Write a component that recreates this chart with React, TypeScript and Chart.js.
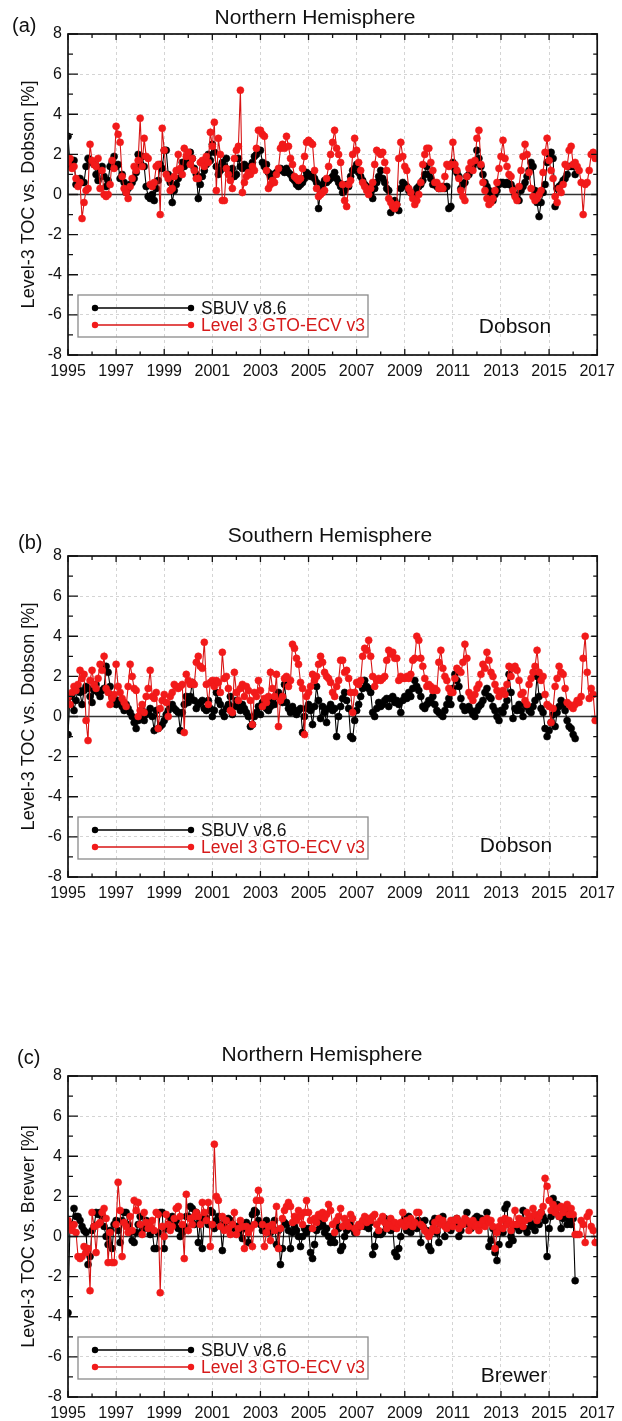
import React, { useEffect, useRef } from "react";
import Chart from "chart.js/auto";

const FONT = '"Liberation Sans", Arial, Helvetica, sans-serif';

// axis ticks
const xTicks = [1995, 1997, 1999, 2001, 2003, 2005, 2007, 2009, 2011, 2013, 2015, 2017];
const yTicks = [-8, -6, -4, -2, 0, 2, 4, 6, 8];
const seriesNames = ["SBUV v8.6", "Level 3 GTO-ECV v3"];
const startYear = 1995; // monthly values from Jan 1995

// (a) NH, Dobson
const aRed = [
  1.6, 1.8, 1.3, 1.4, 0.8, 0.4, 0.6, -1.2, -0.4, 0.2, 0.3, 2.5,
  1.7, 1.5, 1.4, 1.8, 0.3, 1.2, 0.0, -0.1, 0.0, 0.5, 1.7, 1.3,
  3.4, 3.0, 2.6, 0.9, 0.3, 0.1, -0.2, 0.4, 0.8, 1.4, 1.2, 1.7,
  3.8, 1.4, 2.8, 1.9, 1.8, 0.5, 0.4, 0.6, 1.4, 1.5, -1.0, 3.3,
  2.2, 1.0, 0.8, 0.2, 0.3, 0.9, 1.2, 2.0, 1.3, 1.0, 2.3, 1.9,
  2.1, 1.5, 1.8, 1.2, 0.8, 0.8, 1.6, 1.7, 1.4, 1.9, 1.6, 3.1,
  2.4, 3.6, 0.2, 2.8, 2.0, -0.3, -0.3, 1.3, 1.0, 0.7, 0.3, 1.8,
  2.2, 2.4, 5.2, 0.1, 0.6, 0.9, 1.1, 1.0, 1.4, 1.2, 2.3, 3.2,
  3.2, 3.0, 2.9, 1.2, 0.3, 0.5, 0.7, 0.6, 1.0, 1.3, 2.3, 2.5,
  2.3, 2.9, 2.4, 1.8, 1.5, 0.9, 0.8, 0.7, 0.8, 1.3, 1.9, 2.6,
  2.7, 2.6, 2.5, 1.2, 0.3, -0.1, 0.0, 0.1, 0.2, 0.8, 1.4, 2.0,
  2.6, 3.2, 2.3, 2.0, 1.6, 0.5, -0.3, -0.6, 0.5, 0.7, 2.0, 2.8,
  2.2, 1.6, 1.2, 0.6, 0.4, 0.2, 0.0, 0.3, 0.6, 1.5, 2.2, 2.1,
  2.0, 2.1, 1.6, 1.2, -0.2, -0.4, -0.6, -0.7, -0.5, 1.8, 2.6, 1.9,
  1.4, 1.2, 0.3, 0.1, -0.2, -0.5, -0.3, 0.0, 0.6, 1.5, 2.0, 2.3,
  2.3, 1.6, 1.2, 0.6, 0.6, 0.3, 0.4, 0.3, 0.9, 1.5, 1.4, 1.5,
  2.6, 1.5, 1.2, 0.8, 0.2, -0.1, -0.3, 0.9, 1.3, 1.6, 1.2, 1.7,
  2.8, 3.2, 1.5, 0.6, 0.2, -0.2, -0.5, -0.4, -0.2, 0.2, 0.6, 1.3,
  1.9, 2.7, 1.8, 1.4, 1.0, 0.9, 0.2, -0.1, -0.3, 0.4, 1.2, 1.9,
  2.5, 2.0, 1.1, 0.3, -0.1, -0.3, -0.2, 0.0, 0.2, 1.1, 2.1, 2.8,
  1.7, 1.2, 0.8, -0.1, -0.4, 0.3, 0.1, 0.5, 1.5, 1.4, 2.2, 2.4,
  1.5, 1.6, 1.4, 1.2, 0.6, -1.0, 0.5, 0.6, 1.2, 2.0, 2.1, 1.8,
];
const aBlack = [
  2.9, 1.5, 1.7, 1.7, 0.5, 0.7, 0.8, 0.6, 0.6, 1.4, 1.8, 1.7,
  1.6, 1.5, 1.0, 0.7, 1.2, 1.4, 0.9, 0.4, 0.7, 1.4, 1.6, 1.9,
  1.4, 1.5, 0.8, 1.0, 0.6, 0.1, 0.3, 0.5, 0.6, 0.8, 1.1, 2.0,
  1.5, 1.9, 1.4, 0.4, -0.1, -0.2, 0.0, -0.3, 0.3, 0.7, 1.5, 1.3,
  2.2, 2.2, 1.0, 0.6, -0.4, 0.2, 0.5, 0.8, 1.2, 1.6, 1.4, 1.7,
  1.8, 2.1, 1.8, 1.3, 1.0, -0.2, 0.5, 0.9, 1.2, 1.5, 2.0, 1.7,
  2.5, 2.1, 1.4, 1.0, 1.2, 1.6, 1.4, 1.8, 1.2, 1.1, 1.3, 0.9,
  1.0, 1.8, 1.4, 1.3, 1.5, 1.4, 1.3, 1.4, 1.6, 1.9, 2.0, 2.2,
  2.2, 1.6, 1.4, 1.5, 1.1, 0.9, 1.0, 1.0, 1.1, 1.2, 1.3, 1.2,
  1.1, 1.3, 1.1, 1.0, 0.8, 0.7, 0.5, 0.4, 0.5, 0.6, 0.8, 1.1,
  1.0, 0.9, 1.0, 0.8, 0.6, -0.7, 0.2, 0.5, 0.7, 0.6, 0.7, 0.8,
  0.9, 1.1, 0.8, 0.6, 0.4, 0.1, 0.2, 0.5, 0.4, 0.9, 1.2, 1.3,
  1.5, 1.1, 0.9, 0.7, 0.5, 0.4, 0.3, 0.1, -0.2, 0.3, 0.6, 0.9,
  1.2, 0.8, 0.6, 0.3, 0.2, -0.9, -0.4, -0.3, -0.5, -0.8, 0.3, 0.6,
  0.5, 0.4, 0.2, 0.1, 0.0, -0.1, 0.3, 0.4, 0.5, 0.7, 1.0, 1.4,
  1.0, 0.8, 0.5, 0.5, 0.4, 0.3, 0.3, 0.4, 0.3, 0.4, -0.7, -0.6,
  1.6, 1.3, 1.1, 0.9, 0.3, 0.5, 0.6, 0.9, 1.0, 1.3, 1.4, 1.6,
  2.2, 1.8, 1.4, 1.0, 0.6, 0.4, 0.2, 0.0, -0.3, 0.0, 0.2, 0.5,
  0.6, 0.6, 0.5, 0.6, 0.5, 0.5, 0.3, 0.0, -0.2, -0.3, 0.2, 0.4,
  0.6, 0.9, 1.2, 1.6, 1.4, 0.2, -0.4, -1.1, -0.4, 0.1, 0.5, 1.6,
  2.0, 2.1, 1.8, -0.6, 0.3, 0.4, 0.5, 0.7, 0.8, 1.0, 1.4, 1.4,
  1.4, 1.0,
];

// (b) SH, Dobson
const bRed = [
  1.0, 0.6, 1.2, 1.5, 1.3, 1.6, 2.3, 1.9, 2.1, -0.2, -1.2, 1.8,
  2.3, 1.6, 1.4, 1.9, 2.6, 2.3, 3.0, 1.4, 1.2, 0.6, 0.9, 1.1,
  2.6, 1.5, 1.2, 0.9, 0.7, 0.5, 1.5, 2.6, 2.0, 1.4, 1.3, 0.0,
  0.3, 0.6, 0.2, 1.0, 1.4, 2.3, 1.0, 0.9, 1.2, -0.6, 0.4, 0.8,
  1.1, 0.7, 0.0, 1.0, 1.2, 1.6, 1.5, 1.4, 1.5, 1.6, -0.8, 2.1,
  1.8, 1.6, 1.7, 1.6, 2.7, 3.0, 2.5, 2.4, 3.7, 1.6, 0.6, 1.7,
  1.8, 1.5, 1.8, 1.7, 1.2, 3.2, 1.9, 2.0, 1.4, 0.3, 0.2, 2.2,
  1.2, 0.8, 1.4, 1.6, 1.0, 1.5, 1.3, 0.8, -0.4, 1.2, 1.0, 1.8,
  1.3, 0.5, 0.9, 0.7, 1.0, 2.2, 1.4, 1.0, 2.1, -0.5, 0.8, 1.0,
  1.9, 2.0, 1.5, 1.8, 3.6, 3.4, 2.9, 2.6, 1.7, 1.4, -0.9, 1.0,
  1.2, 1.5, 2.1, 1.8, 2.0, 2.6, 3.0, 2.7, 2.2, 2.0, 1.9, 1.7,
  1.2, 1.0, 1.5, 1.8, 2.8, 2.8, 2.2, 2.3, 1.9, 1.2, 0.2, 1.2,
  1.7, 1.6, 1.8, 3.0, 3.4, 3.3, 3.8, 3.0, 2.0, 1.5, 1.8, 1.9,
  1.8, 1.9, 2.0, 2.8, 3.3, 3.1, 3.2, 2.9, 2.9, 1.8, 2.0, 1.9,
  1.9, 2.0, 1.9, 2.1, 2.8, 2.9, 4.0, 3.8, 2.9, 2.5, 1.9, 1.5,
  1.6, 1.5, 1.3, 1.4, 1.3, 2.7, 3.3, 2.4, 2.0, 1.8, 1.4, 1.2,
  1.2, 1.9, 2.4, 2.3, 2.2, 2.7, 3.6, 2.9, 1.2, 1.0, 0.8, 1.1,
  1.4, 1.6, 2.1, 2.6, 2.4, 3.2, 2.8, 2.2, 2.0, 1.6, 1.3, 1.0,
  1.2, 1.3, 1.1, 1.6, 2.5, 2.0, 2.4, 2.5, 2.3, 1.8, 1.1, 1.2,
  0.8, 0.6, 1.6, 1.9, 2.2, 2.5, 3.3, 2.2, 1.8, 2.0, 1.1, 0.6,
  0.5, -0.3, 0.4, 1.5, 1.9, 2.5, 2.2, 2.1, 1.4, 0.7, 0.6, 0.5,
  0.4, 0.6, 0.8, 0.7, 1.0, 2.9, 4.0, 2.2, 0.9, 1.4, 1.1, -0.2,
];
const bBlack = [
  -0.9, 1.0, 1.1, 0.3, 0.8, 1.4, 1.2, 0.6, 1.3, 1.5, 1.4, 1.0,
  0.7, 1.3, 1.6, 1.2, 1.0, 1.3, 1.4, 2.5, 2.2, 1.5, 1.0, 0.9,
  0.6, 0.8, 0.7, 0.5, 0.3, 0.6, 0.4, 0.2, 0.0, -0.3, -0.6, -0.2,
  0.0, 0.3, -0.2, 0.1, 0.2, 0.4, 0.0, -0.7, 0.3, -0.6, -0.5, -0.4,
  -0.2, 0.1, 0.3, 0.5, 0.6, 0.4, 0.3, 0.2, -0.7, 0.2, 0.6, 1.0,
  0.7, 1.0, 1.7, 0.8, 0.4, 0.6, 0.7, 0.8, 0.4, 0.3, 0.8, 0.4,
  0.0, 0.3, 1.2, 0.8, 0.6, 0.2, 0.0, 0.4, 0.6, 1.0, 0.1, 0.5,
  0.8, 0.5, 0.3, 0.6, 0.4, 0.2, 0.0, -0.5, -0.4, 0.0, 0.2, 0.5,
  0.1, 0.7, 0.6, 0.4, 0.3, 0.5, 0.8, 0.6, 1.0, 1.2, 0.9, 0.7,
  1.6, 0.7, 0.4, 0.2, 0.5, 0.3, 0.1, 0.3, 0.4, -0.8, 0.0, 0.4,
  0.6, 0.3, -0.4, 0.5, 1.5, 0.8, -0.1, 0.5, 0.2, -0.3, 0.4, 0.6,
  0.3, 0.4, -1.0, 0.0, 0.5, 0.9, 1.2, 0.8, 0.4, -1.0, -1.1, -0.2,
  0.3, 0.6, 1.0, 1.4, 1.8, 1.5, 1.4, 1.2, 0.2, 0.0, 0.4, 0.7,
  0.5, 0.6, 0.8, 0.9, 0.5, 0.9, 1.0, 0.7, 0.8, 0.6, 0.2, 0.8,
  1.0, 0.9, 1.2, 1.0, 1.4, 1.8, 1.5, 1.3, 1.0, 0.5, 0.4, 0.6,
  0.8, 0.7, 1.0, 0.6, 0.3, 0.2, 0.1, 0.0, 0.3, 0.6, 0.9, 0.6,
  1.4, 2.1, 1.8, 1.5, 0.9, 0.5, 0.3, 0.4, 0.5, 0.3, 0.1, 0.0,
  0.3, 0.5, 0.6, 0.8, 1.2, 1.4, 1.0, 0.9, 0.5, 0.3, 0.0, -0.2,
  0.3, 0.2, 0.5, 0.8, 2.1, 1.2, -0.1, 0.4, 0.3, 0.6, 0.3, 0.0,
  0.6, 0.5, 0.3, 0.2, 0.5, 0.8, 2.0, 1.0, 0.4, 0.2, -0.6, -1.0,
  -0.7, -0.3, 0.1, -0.5, 0.2, 0.5, 0.8, 0.6, 0.3, -0.2, -0.5, -0.6,
  -0.9, -1.1,
];

// (c) NH, Brewer
const cRed = [
  0.8, 0.5, 0.3, 0.6, 0.2, -1.0, -1.1, -1.0, -0.5, -0.8, -0.6, -2.7,
  1.2, 0.5, -0.8, 0.6, 0.7, 1.2, 1.4, 0.9, -1.3, 0.2, -1.3, -1.3,
  0.6, 2.7, 1.3, -1.0, 0.7, 0.5, 0.2, 1.0, 0.3, 1.8, 1.3, 1.7,
  0.6, 0.1, 1.2, 0.7, 0.4, 0.5, 0.8, 0.3, 1.2, 1.1, -2.8, 0.5,
  0.0, 1.1, 0.6, 0.3, 0.5, 0.9, 1.4, 1.5, 1.0, 0.6, -1.1, 2.1,
  0.3, 0.9, 0.6, 1.0, 1.2, 1.0, 0.6, 1.7, 1.2, 0.8, 1.7, -0.5,
  0.6, 4.6, 2.0, 1.8, 0.5, 1.0, 0.3, 0.8, 0.4, 0.1, 0.6, 1.2,
  0.1, 0.4, 0.8, 0.5, -0.6, 0.5, 0.2, 0.4, -0.5, 0.6, 1.8, 2.3,
  1.8, 0.6, -0.5, 0.2, 0.5, -0.2, 0.6, 0.3, 1.5, -0.6, 0.4, 0.9,
  1.3, 1.5, 1.7, 1.5, 0.7, 1.0, 0.8, 1.3, 1.0, 0.6, 1.2, 1.8,
  1.2, 0.8, 0.4, 0.9, 0.7, 1.1, 1.0, 1.2, 0.9, 1.1, 1.6, 1.3,
  0.6, 0.2, 0.8, 1.0, 1.4, 0.5, 0.9, 0.7, 0.5, 1.1, 0.9, 0.4,
  0.2, 0.6, 0.5, 0.8, 1.0, 0.7, 0.9, 0.8, 1.0, 1.1, 0.6, 0.3,
  0.8, 1.0, 0.7, 0.4, 0.6, 0.9, 0.5, 0.7, 0.4, 0.6, 0.7, 1.2,
  0.5, 0.8, 0.6, 0.9, 0.5, 0.7, 1.2, 1.2, 0.6, 0.5, 0.3, 0.2,
  0.0, 0.2, 0.4, 0.7, 0.3, 0.9, 0.6, 0.8, 0.5, 0.4, 0.6, 0.8,
  0.5, 0.8, 0.9, 0.4, 0.7, 0.6, 0.9, 0.8, 0.3, 0.6, 0.8, 0.5,
  0.6, 0.3, 0.6, 0.8, 0.5, 0.9, 0.7, 0.8, 0.5, -0.6, 0.2, 0.5,
  0.8, 0.4, 0.9, 0.6, 0.8, 0.3, 0.6, 1.3, 0.6, 0.9, 0.8, 0.5,
  0.8, 1.2, 0.9, 1.0, 1.4, 1.1, 0.8, 1.0, 1.2, 1.5, 2.9, 2.5,
  1.8, 1.3, 1.6, 1.2, 1.4, 1.0, 1.5, 1.2, 1.4, 1.6, 1.1, 1.4,
  1.1, 0.1, 0.1, 0.1, 0.8, 0.6, -0.3, 1.0, 1.2, 0.5, 0.3, -0.3,
];
const cBlack = [
  -3.8, 0.6, 0.6, 1.4, 1.0, 1.0, 0.8, 0.5, 0.3, 0.2, -1.4, -1.0,
  0.3, 0.5, 1.2, 1.1, 1.2, 1.0, 0.5, 0.0, -0.4, 0.3, -0.6, 0.6,
  0.8, 0.3, -0.3, 0.8, 1.2, 1.2, 0.6, 0.2, -0.2, -0.3, 0.2, 0.6,
  1.0, 0.3, 0.5, 0.8, 0.4, 0.1, 0.3, -0.6, -0.6, 0.2, 1.2, 1.2,
  -0.6, 0.4, 0.6, 0.9, 1.0, 0.6, 0.8, 0.4, 0.0, 0.2, 0.5, 1.0,
  1.0, 1.5, 1.4, 0.6, 1.2, -0.3, 0.8, -0.6, 1.0, 0.9, 0.6, 1.3,
  1.2, 0.4, 0.8, 1.0, 0.6, -0.7, 0.5, 0.8, 0.9, 0.8, 0.6, 0.4,
  0.5, 0.2, 0.6, -0.1, 0.4, 0.7, -0.3, 0.5, 1.1, 1.3, 1.2, 0.8,
  0.6, 0.3, 0.5, 0.8, 0.4, 0.2, 0.5, 0.8, -0.4, 0.3, -1.4, -0.6,
  0.7, 0.6, 0.3, -0.6, 0.2, 0.5, 0.3, 0.0, -0.5, 0.0, 0.4, 0.2,
  0.4, -0.8, -1.1, -0.4, 0.3, 0.8, 0.5, 0.6, 0.2, 0.4, 0.0, -0.3,
  0.0, -0.3, 0.7, 0.4, -0.7, -0.5, 0.0, 0.3, 0.6, 0.7, 0.4, 0.2,
  0.3, 0.5, 0.6, 0.7, 0.5, 0.6, 0.4, 0.7, -0.9, -0.5, 0.1, 0.2,
  0.1, 0.2, 0.9, 0.8, 0.5, 0.3, 0.4, -0.8, -1.0, -0.6, 0.0, 0.7,
  0.9, 0.3, 1.0, 0.2, 0.5, 0.6, 0.4, 0.8, -0.3, 0.5, 0.8, 0.3,
  -0.5, -0.7, 0.7, 0.9, 0.2, -0.3, 0.8, 1.0, 0.0, 0.5, 0.6, 0.3,
  0.8, 0.6, 0.9, 0.0, 0.3, 0.6, 0.8, 1.2, 0.6, 0.4, 0.7, 0.9,
  1.0, 0.6, 0.9, 0.6, 0.8, 1.2, -0.5, -0.2, 0.4, -0.8, -1.2, -0.4,
  0.3, 0.2, 1.4, 1.6, -0.4, 0.0, -0.2, 0.5, 0.6, 0.3, 0.6, 1.3,
  0.4, 0.2, 0.8, 0.5, 0.6, 0.3, 0.8, 0.6, 1.2, 1.0, 0.8, -1.0,
  0.4, 1.0, 1.9, 1.5, 1.6, 1.0, 0.4, 0.9, 1.2, 0.6, 0.9, 0.6,
  0.9, -2.2,
];

const RED_LINE = "#d81414";
const RED_DOT = "#f21a1a";

const toPoints = (vals: number[]) => vals.map((v, i) => ({ x: startYear + i / 12, y: v }));

type PanelProps = {
  top: number;
  letter: string;
  letterX: number;
  letterY: number;
  title: string;
  titleX: number;
  titleY: number;
  yTitle: string;
  site: string;
  siteX: number;
  siteY: number;
  red: number[];
  black: number[];
};

const panels: PanelProps[] = [
  {
    top: 0, letter: "(a)", letterX: 12, letterY: 26,
    title: "Northern Hemisphere", titleX: 315, titleY: 18,
    yTitle: "Level-3 TOC vs. Dobson [%]", site: "Dobson", siteX: 515, siteY: 327,
    red: aRed, black: aBlack,
  },
  {
    top: 522, letter: "(b)", letterX: 18, letterY: 21,
    title: "Southern Hemisphere", titleX: 330, titleY: 14,
    yTitle: "Level-3 TOC vs. Dobson [%]", site: "Dobson", siteX: 516, siteY: 324,
    red: bRed, black: bBlack,
  },
  {
    top: 1042, letter: "(c)", letterX: 17, letterY: 16,
    title: "Northern Hemisphere", titleX: 322, titleY: 13,
    yTitle: "Level-3 TOC vs. Brewer [%]", site: "Brewer", siteX: 514, siteY: 334,
    red: cRed, black: cBlack,
  },
];

// zero line, frame, inward ticks, legend box and labels
const makeOverlay = (p: PanelProps) => ({
  id: "overlay",
  beforeDatasetsDraw(chart: any) {
    const { ctx, chartArea: a, scales } = chart;
    const y0 = scales.y.getPixelForValue(0);
    ctx.save();
    ctx.strokeStyle = "#333";
    ctx.lineWidth = 1.4;
    ctx.beginPath();
    ctx.moveTo(a.left, y0);
    ctx.lineTo(a.right, y0);
    ctx.stroke();
    ctx.restore();
  },
  afterDraw(chart: any) {
    const { ctx, chartArea: a, scales } = chart;
    const { x, y } = scales;
    ctx.save();
    ctx.strokeStyle = "#111";
    ctx.lineWidth = 1.7;
    ctx.strokeRect(a.left, a.top, a.right - a.left, a.bottom - a.top);

    ctx.lineWidth = 1.3;
    ctx.beginPath();
    for (let yr = x.min; yr <= x.max; yr++) {
      const px = x.getPixelForValue(yr);
      const major = (yr - x.min) % 2 === 0;
      ctx.moveTo(px, a.bottom);
      ctx.lineTo(px, a.bottom - (major ? 6 : 3.5));
      ctx.moveTo(px, a.top);
      ctx.lineTo(px, a.top + (major ? 6 : 4));
    }
    for (let v = y.min; v <= y.max; v++) {
      const py = y.getPixelForValue(v);
      const major = v % 2 === 0;
      ctx.moveTo(a.left, py);
      ctx.lineTo(a.left + (major ? 10 : 5), py);
      ctx.moveTo(a.right, py);
      ctx.lineTo(a.right - (major ? 6 : 4), py);
    }
    ctx.stroke();

    // legend
    const boxTop = a.top + 261;
    ctx.strokeStyle = "#8a8a8a";
    ctx.lineWidth = 1.3;
    ctx.strokeRect(78, boxTop, 290, 42);
    const rows = [
      { name: seriesNames[0], line: "#000", dot: "#000", text: "#111", yy: a.top + 274 },
      { name: seriesNames[1], line: RED_LINE, dot: RED_DOT, text: "#d61a1a", yy: a.top + 291 },
    ];
    ctx.font = `17.5px ${FONT}`;
    ctx.textBaseline = "middle";
    ctx.textAlign = "left";
    rows.forEach((r) => {
      ctx.strokeStyle = r.line;
      ctx.lineWidth = 1.5;
      ctx.beginPath();
      ctx.moveTo(95, r.yy);
      ctx.lineTo(191, r.yy);
      ctx.stroke();
      ctx.fillStyle = r.dot;
      [95, 191].forEach((cx) => {
        ctx.beginPath();
        ctx.arc(cx, r.yy, 3.2, 0, Math.PI * 2);
        ctx.fill();
      });
      ctx.fillStyle = r.text;
      ctx.fillText(r.name, 201, r.yy + 1);
    });

    ctx.fillStyle = "#111";
    ctx.font = `21px ${FONT}`;
    ctx.textAlign = "center";
    ctx.fillText(p.site, p.siteX, p.siteY);
    ctx.fillText(p.title, p.titleX, p.titleY);
    ctx.textAlign = "left";
    ctx.font = `20px ${FONT}`;
    ctx.fillText(p.letter, p.letterX, p.letterY);
    ctx.restore();
  },
});

const Panel = (p: PanelProps) => {
  const chartRef = useRef<HTMLCanvasElement>(null);
  let chartInstance = useRef<any>(null);

  useEffect(() => {
    if (!chartRef.current) return;
    const ctx: any = chartRef.current.getContext("2d");
    if (chartInstance.current) chartInstance.current.destroy();

    const tickFont = { size: 16, family: FONT };

    chartInstance.current = new Chart(ctx, {
      type: "line",
      data: {
        datasets: [
          {
            label: seriesNames[1],
            data: toPoints(p.red),
            borderColor: RED_LINE,
            backgroundColor: RED_DOT,
            pointBackgroundColor: RED_DOT,
            pointBorderColor: RED_DOT,
            pointBorderWidth: 0.6,
            pointRadius: 3.5,
            borderWidth: 1.1,
            tension: 0,
          },
          {
            label: seriesNames[0],
            data: toPoints(p.black),
            borderColor: "#000",
            backgroundColor: "#000",
            pointBackgroundColor: "#000",
            pointBorderColor: "#000",
            pointBorderWidth: 0.6,
            pointRadius: 3.5,
            borderWidth: 1.1,
            tension: 0,
          },
        ],
      },
      options: {
        animation: false,
        responsive: false,
        events: [],
        layout: { padding: { top: 34, right: 20, left: 0, bottom: 0 } },
        plugins: {
          legend: { display: false },
          tooltip: { enabled: false },
        },
        scales: {
          x: {
            type: "linear",
            min: 1995,
            max: 2017,
            afterBuildTicks: (s: any) => {
              s.ticks = xTicks.map((v) => ({ value: v }));
            },
            afterFit: (s: any) => {
              s.height = 24;
            },
            ticks: {
              autoSkip: false,
              maxRotation: 0,
              padding: 7,
              color: "#111",
              font: tickFont,
              callback: (v: any) => String(v),
            },
            grid: { color: "#d4d4d4", lineWidth: 1, drawTicks: false },
            border: { display: false, dash: [3, 3] },
          },
          y: {
            min: -8,
            max: 8,
            afterBuildTicks: (s: any) => {
              s.ticks = yTicks.map((v) => ({ value: v }));
            },
            afterFit: (s: any) => {
              s.width = 68;
            },
            ticks: {
              padding: 6,
              color: "#111",
              font: tickFont,
              callback: (v: any) => String(v),
            },
            grid: { color: "#d4d4d4", lineWidth: 1, drawTicks: false },
            border: { display: false, dash: [3, 3] },
            title: {
              display: true,
              text: p.yTitle,
              color: "#111",
              font: { size: 18, family: FONT },
              padding: { top: 18, bottom: 0 },
            },
          },
        },
      },
      plugins: [makeOverlay(p)],
    });

    return () => {
      if (chartInstance.current) {
        chartInstance.current.destroy();
        chartInstance.current = null;
      }
    };
  }, [p]);

  return (
    <canvas
      ref={chartRef}
      width={622}
      height={379}
      style={{ position: "absolute", left: 0, top: p.top, display: "block" }}
    />
  );
};

export default function App() {
  return (
    <div style={{ position: "relative", width: 622, height: 1421, overflow: "hidden", background: "#fff" }}>
      <style>{"body{margin:0;overflow:hidden;background:#fff}"}</style>
      {panels.map((p) => (
        <Panel key={p.letter} {...p} />
      ))}
    </div>
  );
}
